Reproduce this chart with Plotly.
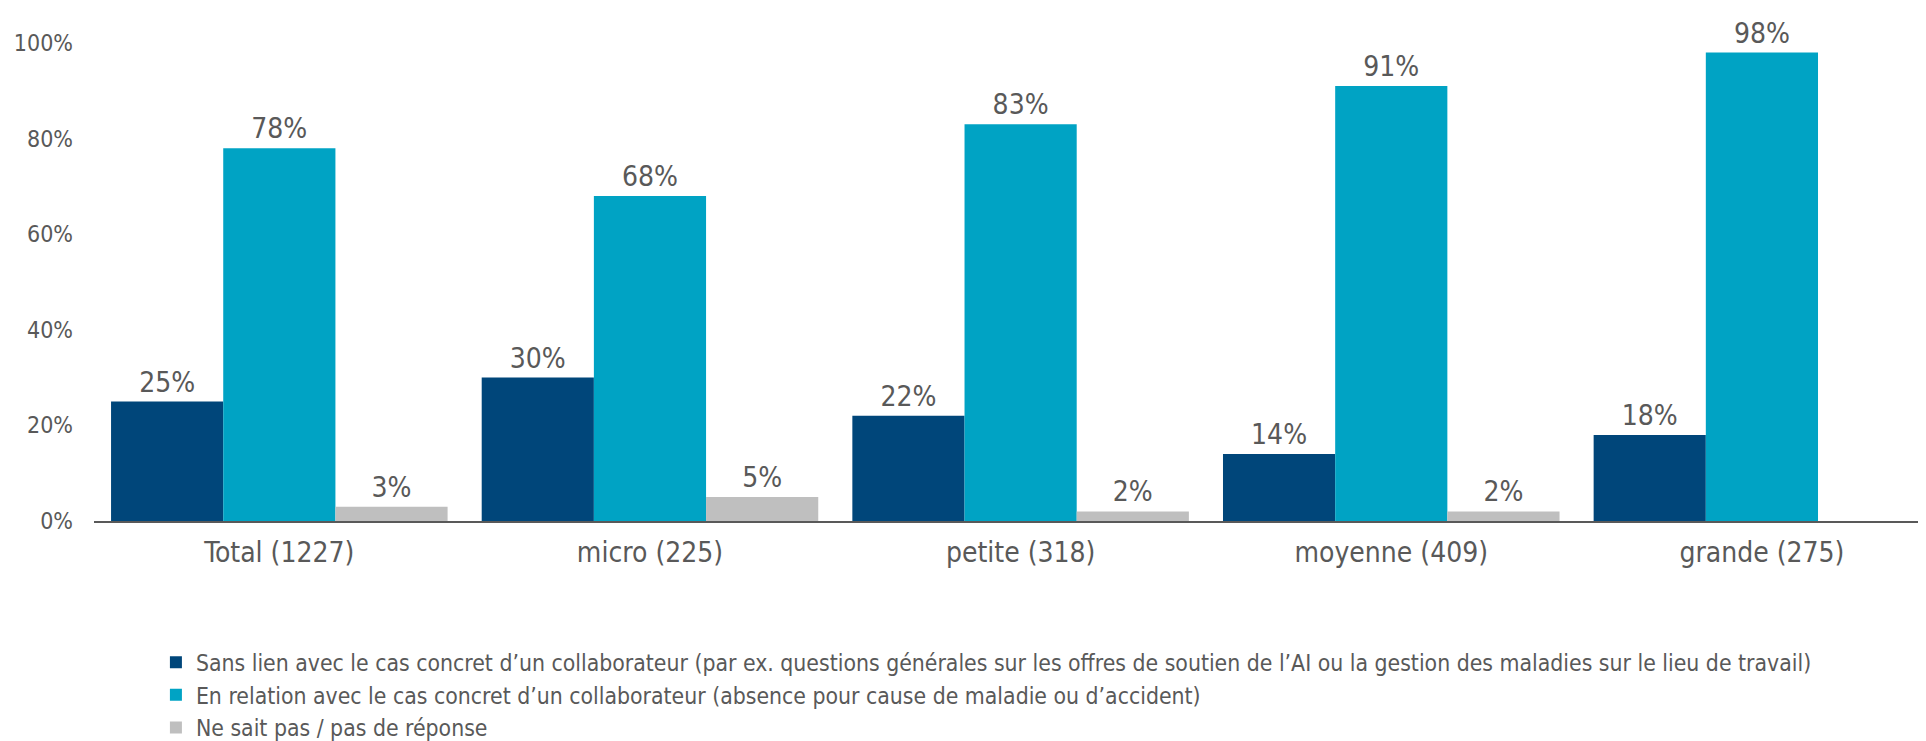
import plotly.graph_objects as go

categories = ["Total (1227)", "micro (225)", "petite (318)", "moyenne (409)", "grande (275)"]
series_names = [
    "Sans lien avec le cas concret d’un collaborateur (par ex. questions générales sur les offres de soutien de l’AI ou la gestion des maladies sur le lieu de travail)",
    "En relation avec le cas concret d’un collaborateur (absence pour cause de maladie ou d’accident)",
    "Ne sait pas / pas de réponse",
]
sans_lien = [25, 30, 22, 14, 18]
en_relation = [78, 68, 83, 91, 98]
ne_sait_pas = [3, 5, 2, 2, None]
colors = ["#00467A", "#00A3C4", "#BFBFBF"]
y_ticks = [0, 20, 40, 60, 80, 100]
y_ticklabels = ["0%", "20%", "40%", "60%", "80%", "100%"]

text_color = "#595959"
font_fam = "DejaVu Sans Condensed"
fig = go.Figure()
for i, (name, vals, col) in enumerate(zip(series_names, [sans_lien, en_relation, ne_sait_pas], colors)):
    fig.add_trace(go.Bar(
        x=categories, y=vals, name=name, marker_color=col, marker_line_width=0,
        texttemplate="%{y}%", textposition="outside", cliponaxis=False,
        constraintext="none",
        textfont=dict(family=font_fam, size=28, color=text_color),
    ))

fig.update_layout(
    width=1926, height=741,
    barmode="group", bargap=0.092, bargroupgap=0,
    plot_bgcolor="white", paper_bgcolor="white",
    margin=dict(l=86, r=9, t=35, b=228, autoexpand=False),
    font=dict(family=font_fam, color=text_color),
    legend=dict(
        orientation="v", xref="container", yref="container",
        x=0.0768, y=0.146, xanchor="left", yanchor="top",
        font=dict(family=font_fam, size=22.8, color=text_color),
        itemwidth=30, traceorder="normal",
    ),
    showlegend=True,
)
fig.update_xaxes(
    range=[-0.5, 4.44], showgrid=False, showline=True, linecolor="#595959", linewidth=2,
    ticks="", tickangle=0, ticklabelstandoff=5,
    tickfont=dict(family=font_fam, size=28, color=text_color),
)
fig.update_yaxes(
    range=[0, 100], showgrid=False, zeroline=False, showline=False,
    tickvals=y_ticks, ticktext=y_ticklabels, ticks="", ticklabelstandoff=20,
    tickfont=dict(family=font_fam, size=23, color=text_color),
)
fig.write_html("out.html")
